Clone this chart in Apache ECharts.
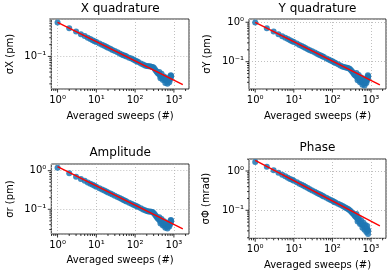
<!DOCTYPE html>
<html><head><meta charset="utf-8">
<script src="https://cdn.jsdelivr.net/npm/echarts@6/dist/echarts.min.js"></script>
<style>html,body{margin:0;padding:0;background:#fff}#c{width:389px;height:274px}</style>
</head><body><div id="c"></div>
<script>
// ---- data ----
const sweeps = [1,2,3,4,5,6,7,8,9,10,12,14,16,18,20,23,26,30,35,40,45,50,55,60,70,80,90,100,110,120,140,160,180,200,220,240,260,280,300,320,340,360,380,400,430,460,500,550,600,650,700,750,800,830,850,
  420,450,480,520,560,600,640,680,720,760,800,840];
const sigmaX = [0.73,0.52,0.43,0.37,0.33,0.30,0.28,0.26,0.245,0.235,0.215,0.20,0.186,0.176,0.167,0.156,0.147,0.137,0.127,0.119,0.112,0.108,0.104,0.100,0.093,0.088,0.083,0.079,0.075,0.072,0.066,0.062,0.059,0.057,0.056,0.056,0.055,0.054,0.052,0.048,0.044,0.041,0.038,0.036,0.033,0.031,0.029,0.027,0.025,0.024,0.024,0.027,0.031,0.033,0.032,
  0.040,0.028,0.036,0.025,0.031,0.021,0.028,0.020,0.026,0.022,0.026,0.029];
const sigmaY = [0.98,0.70,0.58,0.50,0.445,0.405,0.375,0.35,0.33,0.315,0.288,0.266,0.249,0.235,0.223,0.208,0.196,0.183,0.170,0.159,0.150,0.143,0.137,0.131,0.121,0.113,0.107,0.102,0.097,0.093,0.086,0.080,0.076,0.073,0.071,0.070,0.068,0.066,0.062,0.057,0.053,0.049,0.046,0.044,0.041,0.038,0.035,0.032,0.030,0.029,0.029,0.033,0.040,0.045,0.043,
  0.052,0.034,0.046,0.030,0.040,0.026,0.036,0.025,0.034,0.029,0.034,0.038];
const sigmaAmp = [1.20,0.86,0.70,0.61,0.545,0.495,0.46,0.43,0.405,0.385,0.352,0.326,0.305,0.288,0.273,0.255,0.240,0.224,0.208,0.195,0.184,0.175,0.167,0.160,0.148,0.139,0.131,0.125,0.119,0.114,0.106,0.099,0.094,0.090,0.088,0.087,0.086,0.085,0.080,0.074,0.068,0.063,0.059,0.055,0.051,0.048,0.044,0.040,0.037,0.036,0.036,0.040,0.048,0.053,0.051,
  0.062,0.043,0.056,0.038,0.049,0.033,0.044,0.032,0.041,0.036,0.041,0.046];
const sigmaPhase = [1.69,1.28,1.04,0.90,0.80,0.73,0.675,0.63,0.595,0.565,0.515,0.475,0.445,0.42,0.395,0.368,0.345,0.32,0.297,0.277,0.261,0.247,0.236,0.226,0.209,0.195,0.184,0.174,0.166,0.159,0.147,0.138,0.130,0.123,0.117,0.111,0.106,0.100,0.094,0.088,0.083,0.078,0.073,0.069,0.064,0.059,0.053,0.047,0.043,0.040,0.037,0.035,0.033,0.031,0.030,
  0.080,0.052,0.066,0.045,0.055,0.036,0.048,0.032,0.042,0.028,0.040,0.025];
const fitSweeps = [1, 1700];
const fitX = [0.74, 0.0192];
const fitY = [1.0, 0.026];
const fitAmp = [1.27, 0.031];
const fitPhase = [1.87, 0.040];
const titles = ['X quadrature', 'Y quadrature', 'Amplitude', 'Phase'];
const yNames = ['σX (pm)', 'σY (pm)', 'σr (pm)', 'σΦ (mrad)'];
const xName = 'Averaged sweeps (#)';

// ---- layout ----
const FONT = '"DejaVu Sans", sans-serif';
const XMIN = 0.69, XMAX = 2450;
const panels = [
  {rect:{left:51.3, top:19, width:137.7, height:70}, ymin:0.0148, ymax:0.9, vals:sigmaX, fit:fitX, titleY:9, xNameY:116, yNameX:10.5},
  {rect:{left:249, top:19, width:137, height:70}, ymin:0.0203, ymax:1.21, vals:sigmaY, fit:fitY, titleY:9, xNameY:116, yNameX:207},
  {rect:{left:51.3, top:164, width:137.7, height:70}, ymin:0.0229, ymax:1.49, vals:sigmaAmp, fit:fitAmp, titleY:153, xNameY:260.5, yNameX:10.5},
  {rect:{left:249, top:159, width:137, height:79.3}, ymin:0.0194, ymax:2.02, vals:sigmaPhase, fit:fitPhase, titleY:148, xNameY:265, yNameX:206.5}
];

const SUP = {'-':'⁻','0':'⁰','1':'¹','2':'²','3':'³','4':'⁴'};
function powLabel(v) {
  const e = Math.log10(v), r = Math.round(e);
  if (Math.abs(e - r) > 1e-6) return '';
  return '10' + String(r).split('').map(c => SUP[c]).join('');
}
function logTicks(lo, hi) {
  const major = [], minor = [];
  for (let d = -3; d <= 4; d++) {
    for (let k = 1; k <= 9; k++) {
      const v = k * Math.pow(10, d);
      if (v >= lo * 0.9999 && v <= hi * 1.0001) (k === 1 ? major : minor).push(v);
    }
  }
  return {major, minor};
}
function tickSeries(gi, values, dim, len, p) {
  return {
    type: 'custom', xAxisIndex: gi, yAxisIndex: gi, clip: false, silent: true, z: 10,
    data: values.map(v => dim === 'x' ? [v, p.ymin] : [XMIN, v]),
    renderItem: (params, api) => {
      const c = api.coord([api.value(0), api.value(1)]);
      const shape = dim === 'x'
        ? {x1: c[0], y1: c[1], x2: c[0], y2: c[1] + len}
        : {x1: c[0], y1: c[1], x2: c[0] - len, y2: c[1]};
      return {type: 'line', shape, style: {stroke: '#000', lineWidth: 0.8}};
    }
  };
}

const grid = [], xAxis = [], yAxis = [], series = [], graphic = [];
panels.forEach((p, i) => {
  grid.push(Object.assign({show: true, borderColor: '#000', borderWidth: 0.8, backgroundColor: 'transparent'}, p.rect));
  const common = {
    type: 'log', logBase: 10, gridIndex: i,
    axisLine: {show: false}, axisTick: {show: false},
    splitLine: {show: true, lineStyle: {color: '#b0b0b0', type: [1, 2], width: 0.8}},
    axisLabel: {formatter: powLabel, fontSize: 10, fontFamily: FONT, color: '#000', showMinLabel: false, showMaxLabel: false}
  };
  xAxis.push(Object.assign({}, common, {min: XMIN, max: XMAX, axisLabel: Object.assign({}, common.axisLabel, {margin: 6})}));
  yAxis.push(Object.assign({}, common, {min: p.ymin, max: p.ymax, axisLabel: Object.assign({}, common.axisLabel, {margin: 5})}));
  series.push({
    type: 'scatter', xAxisIndex: i, yAxisIndex: i, symbolSize: 6, z: 2,
    itemStyle: {color: '#1f77b4', opacity: 0.85},
    data: sweeps.map((n, k) => [n, p.vals[k]])
  });
  series.push({
    type: 'line', xAxisIndex: i, yAxisIndex: i, symbol: 'none', z: 3,
    lineStyle: {color: '#ff0000', width: 1.4},
    data: fitSweeps.map((n, k) => [n, p.fit[k]])
  });
  const xt = logTicks(XMIN, XMAX), yt = logTicks(p.ymin, p.ymax);
  series.push(tickSeries(i, xt.major, 'x', 3.5, p));
  series.push(tickSeries(i, xt.minor, 'x', 2, p));
  series.push(tickSeries(i, yt.major, 'y', 3.5, p));
  series.push(tickSeries(i, yt.minor, 'y', 2, p));
  const cx = p.rect.left + p.rect.width / 2, cy = p.rect.top + p.rect.height / 2;
  graphic.push({type: 'text', x: cx, y: p.titleY, style: {text: titles[i], font: '12px ' + FONT, fill: '#000', align: 'center', verticalAlign: 'middle'}});
  graphic.push({type: 'text', x: cx, y: p.xNameY, style: {text: xName, font: '10px ' + FONT, fill: '#000', align: 'center', verticalAlign: 'middle'}});
  graphic.push({type: 'text', x: p.yNameX, y: cy, rotation: Math.PI / 2, style: {text: yNames[i], font: '10px ' + FONT, fill: '#000', align: 'center', verticalAlign: 'middle'}});
});

const chart = echarts.init(document.getElementById('c'), null, {renderer: 'canvas'});
chart.setOption({animation: false, backgroundColor: '#fff', grid, xAxis, yAxis, series, graphic});
</script>
</body></html>
